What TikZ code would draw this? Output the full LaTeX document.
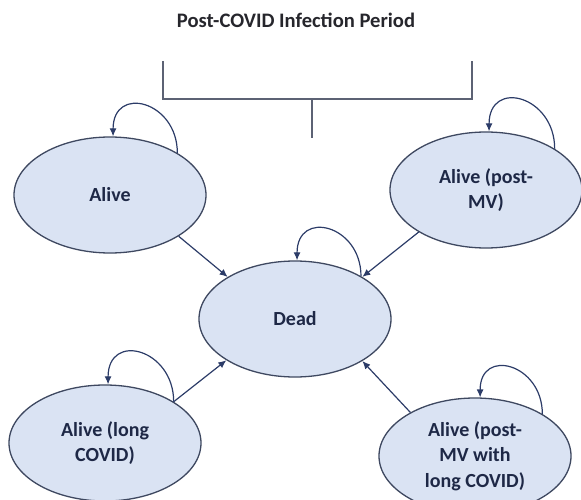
\documentclass[tikz,border=0pt]{standalone}
\usepackage{fontspec}
\setmainfont{Carlito}
\usepackage{xcolor}
\usetikzlibrary{shapes.geometric,arrows.meta}
\definecolor{stateFill}{RGB}{218,227,243}
\definecolor{stateLine}{RGB}{62,72,96}
\definecolor{arrowNavy}{RGB}{44,60,104}
\definecolor{textNavy}{RGB}{30,40,70}
\definecolor{bracketGray}{RGB}{92,98,116}
\definecolor{titleGray}{RGB}{38,38,44}

\begin{document}
\begin{tikzpicture}[x=1pt, y=-1pt,
    state/.style={ellipse, draw=stateLine, line width=1.3pt, fill=stateFill, minimum width=192pt, minimum height=116pt, inner sep=0pt, align=center, text=textNavy, font=\fontsize{20}{25.5}\selectfont\bfseries},
    trans/.style={-{Latex[length=8pt,width=7pt]}, line width=1.2pt, arrowNavy},
    selfloop/.style={trans, out=90, in=90, looseness=2},
    bracket/.style={line width=1.8pt, bracketGray}]
            \useasboundingbox (0,0) rectangle (581,500);
            \clip (0,0) rectangle (581,500);

            % Title
            \node[font=\fontsize{20.6}{24}\selectfont\bfseries, text=titleGray] (title) at (296,20) {Post-COVID Infection Period};

            % Bracket
            \coordinate (brLtop) at (163,61);
            \coordinate (brLbot) at (163,99);
            \coordinate (brRtop) at (472,61);
            \coordinate (brRbot) at (472,99);
            \coordinate (stemTop) at (312,99);
            \coordinate (stemBot) at (312,138);
            \draw[bracket] (brLtop) -- (brLbot) -- (brRbot) -- (brRtop);
            \draw[bracket] (stemTop) -- (stemBot);

            % States
            \node[state] (alive) at (110,195) {Alive};
            \node[state] (postmv) at (486,190) {Alive (post-\\MV)};
            \node[state] (dead) at (295,319) {Dead};
            \node[state] (longcovid) at (105,443) {Alive (long\\COVID)};
            \node[state] (mvlong) at (475,456) {Alive (post-\\MV with\\long COVID)};

            % Transitions
            \draw[trans] (alive.-31) -- (dead.148);
            \draw[trans] (postmv.212) -- (dead.32);
            \draw[trans] (longcovid.31) -- (dead.211);
            \draw[trans] (mvlong.146) -- (dead.-32);

            % Self loops
            \draw[selfloop] (alive.32) to (alive.87);
            \draw[selfloop] (postmv.31) to (postmv.87);
            \draw[selfloop] (dead.33) to (dead.88);
            \draw[selfloop] (longcovid.31) to (longcovid.87);
            \draw[selfloop] (mvlong.32) to (mvlong.85);
        \end{tikzpicture}
\end{document}
